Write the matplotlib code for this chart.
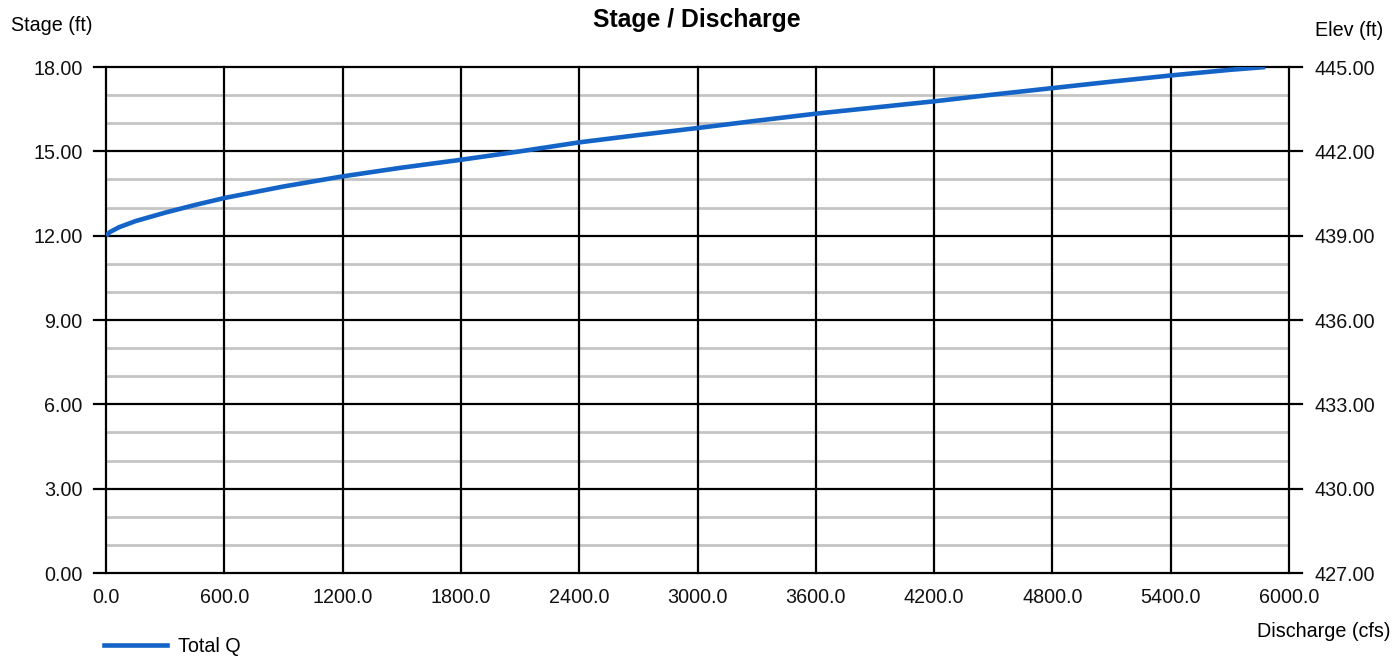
import matplotlib.pyplot as plt
from matplotlib.lines import Line2D

plt.rcParams['font.family'] = ['Liberation Sans', 'DejaVu Sans']

# values
discharge = [0, 20, 66, 150, 300, 450, 600, 900, 1200, 1500, 1800, 2100,
             2400, 2700, 3000, 3300, 3600, 3900, 4200, 4500, 4800, 5100,
             5400, 5700, 5880]
stage = [12.0, 12.13, 12.30, 12.52, 12.82, 13.09, 13.34, 13.75, 14.11, 14.42,
         14.70, 15.00, 15.32, 15.58, 15.83, 16.09, 16.34, 16.56, 16.78, 17.02,
         17.25, 17.48, 17.70, 17.90, 18.0]
x_ticks = [0, 600, 1200, 1800, 2400, 3000, 3600, 4200, 4800, 5400, 6000]
stage_ticks = [0, 3, 6, 9, 12, 15, 18]
elev_ticks = [427, 430, 433, 436, 439, 442, 445]
datum = 427.0

fs = 14.2

fig = plt.figure(figsize=(13.97, 6.59), dpi=100)
ax = fig.add_axes([0.0759, 0.1305, 0.8468, 0.7678])

ax.set_xlim(0, 6000)
ax.set_ylim(0, 18)

# minor grey grid lines every foot
for v in range(1, 18):
    if v % 3:
        ax.axhline(v, color='#c4c4c4', lw=2, zorder=1)
# major horizontal lines, reaching out past the plot like ticks
for v in stage_ticks:
    ax.plot([-0.0101, 1.0107], [v / 18, v / 18], transform=ax.transAxes,
            color='black', lw=1.6, clip_on=False, zorder=2)
for v in x_ticks:
    ax.axvline(v, color='black', lw=1.6, zorder=2, clip_on=False)

ax.plot(discharge, stage, color='#1464c8', lw=3.3, zorder=3,
        solid_capstyle='butt')

for s in ax.spines.values():
    s.set_visible(False)

ax.set_xticks(x_ticks)
ax.set_xticklabels(['%.1f' % v for v in x_ticks])
ax.set_yticks(stage_ticks)
ax.set_yticklabels(['%.2f' % v for v in stage_ticks])
ax.tick_params(axis='x', length=0, pad=11, labelsize=fs, colors='#111111')
ax.tick_params(axis='y', length=0, pad=17, labelsize=fs, colors='#111111')

ax2 = ax.twinx()
ax2.set_ylim(datum, datum + 18)
ax2.set_yticks(elev_ticks)
ax2.set_yticklabels(['%.2f' % v for v in elev_ticks])
ax2.tick_params(axis='y', length=0, pad=18.5, labelsize=fs, colors='#111111')
for s in ax2.spines.values():
    s.set_visible(False)

fig.text(0.499, 0.969, 'Stage / Discharge', ha='center', va='center',
         fontsize=17.8, fontweight='bold')
fig.text(0.008, 0.962, 'Stage (ft)', ha='left', va='center', fontsize=fs)
fig.text(0.941, 0.953, 'Elev (ft)', ha='left', va='center', fontsize=fs)
fig.text(0.995, 0.041, 'Discharge (cfs)', ha='right', va='center',
         fontsize=fs)

fig.legend(handles=[Line2D([], [], color='#1464c8', lw=3.3)],
           labels=['Total Q'], loc='center left',
           bbox_to_anchor=(0.0616, 0.019), frameon=False, fontsize=fs,
           handlelength=3.2, handletextpad=0.55)

fig.savefig('out.png', dpi=100, facecolor='white')
